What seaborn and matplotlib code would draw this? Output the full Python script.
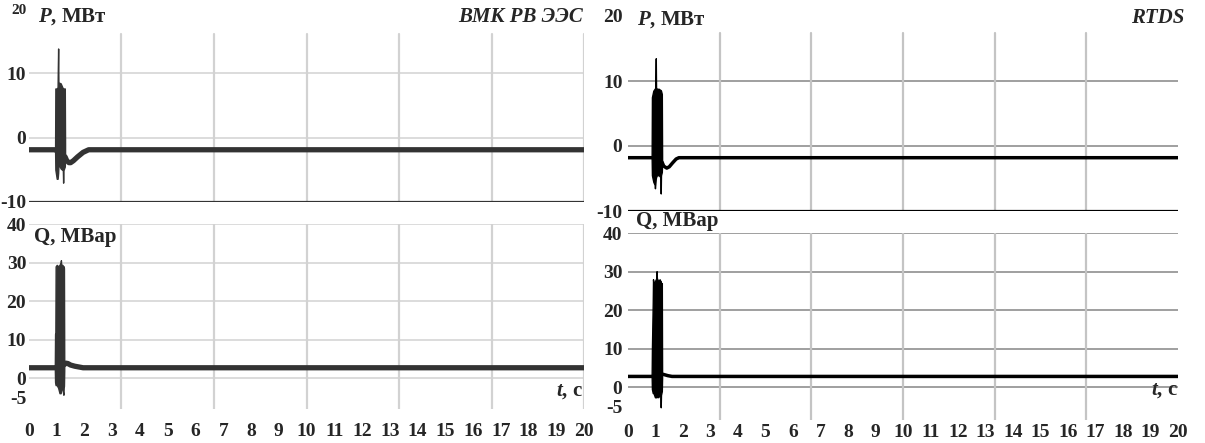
import numpy as np
import pandas as pd
import matplotlib.pyplot as plt
import seaborn as sns

sns.set_style("white")
plt.rcParams['font.family'] = ['Liberation Serif', 'DejaVu Serif']
plt.rcParams['font.weight'] = 'bold'
plt.rcParams['mathtext.fontset'] = 'custom'
plt.rcParams['mathtext.it'] = 'Liberation Serif:italic:bold'
plt.rcParams['mathtext.rm'] = 'Liberation Serif:bold'

# --- ВМК РВ ЭЭС ---
p1_t = [0, 0.94, 1.30, 1.36, 1.44, 1.50, 1.60, 1.75, 1.95, 2.15, 20]
p1_v = [-1.9, -1.9, -3.0, -3.6, -3.9, -3.9, -3.6, -3.0, -2.3, -1.9, -1.9]
p1_bt = [0.94, 0.95, 1.00, 1.03, 1.04, 1.05, 1.06, 1.08, 1.14, 1.22, 1.23, 1.24, 1.29, 1.30]
p1_hi = [-1.9, 7.6, 7.6, 7.8, 11.0, 13.8, 8.6, 8.5, 8.4, 7.6, 7.6, 7.6, 7.6, -1.0]
p1_lo = [-1.9, -5.0, -6.4, -6.4, -6.0, -5.5, -4.5, -4.2, -4.8, -5.1, -7.0, -5.1, -4.5, -3.0]

q1_t = [0, 0.93, 1.27, 1.32, 1.40, 1.50, 1.65, 1.80, 1.95, 20]
q1_v = [2.7, 2.7, 3.5, 3.9, 3.8, 3.4, 3.1, 2.9, 2.7, 2.7]
q1_bt = [0.93, 0.94, 0.95, 0.96, 1.00, 1.05, 1.10, 1.14, 1.15, 1.16, 1.20, 1.24, 1.25, 1.26, 1.27]
q1_hi = [2.7, 11.5, 11.5, 29.0, 29.4, 29.0, 29.4, 30.0, 30.6, 29.5, 29.4, 29.0, 29.0, 28.5, 4.0]
q1_lo = [2.7, -1.0, -1.5, -1.8, -1.8, -2.5, -3.9, -3.9, -3.5, -3.0, -2.5, -4.3, -2.5, -2.0, 2.0]

# --- RTDS ---
p2_t = [0, 0.87, 1.24, 1.30, 1.41, 1.50, 1.62, 1.75, 1.85, 20]
p2_v = [-1.8, -1.8, -2.5, -3.1, -3.4, -3.2, -2.6, -2.0, -1.8, -1.8]
p2_bt = [0.86, 0.87, 0.92, 0.97, 0.98, 0.99, 1.00, 1.01, 1.02, 1.05, 1.12, 1.18, 1.19, 1.20, 1.23, 1.24]
p2_hi = [-1.8, 7.5, 8.5, 8.8, 8.8, 9.0, 11.0, 13.5, 9.0, 8.8, 8.8, 8.6, 8.6, 8.5, 8.0, -1.5]
p2_lo = [-1.8, -4.5, -5.5, -6.0, -6.5, -6.0, -5.5, -5.0, -4.8, -4.5, -4.5, -4.8, -7.3, -4.5, -4.0, -2.5]

q2_t = [0, 0.86, 1.24, 1.30, 1.45, 1.60, 20]
q2_v = [2.8, 2.8, 3.4, 3.3, 3.0, 2.8, 2.8]
q2_bt = [0.86, 0.87, 0.90, 0.91, 0.93, 0.98, 1.03, 1.04, 1.05, 1.10, 1.15, 1.18, 1.19, 1.20, 1.23, 1.24]
q2_hi = [2.8, 10.0, 22.0, 28.0, 26.5, 27.5, 28.3, 30.1, 28.3, 27.5, 28.0, 27.5, 27.5, 27.0, 27.0, 3.0]
q2_lo = [2.8, -0.5, -1.5, -1.5, -1.6, -2.6, -2.6, -2.6, -2.3, -2.6, -2.0, -2.0, -5.2, -2.0, -1.0, 2.5]

x_ticks = list(range(21))
x_grid = [3.33, 6.67, 10, 13.33, 16.67, 20]

W, H = 1205, 443
fig = plt.figure(figsize=(W / 100, H / 100), dpi=100)


def px_axes(x0, x1, y0, y1):
    # pixel box -> figure fraction
    return fig.add_axes([x0 / W, 1 - y1 / H, (x1 - x0) / W, (y1 - y0) / H])


def draw(ax, t, v, bt, hi, lo, color, lw):
    ax.fill_between(bt, lo, hi, color=color, lw=1.0, zorder=3)
    sns.lineplot(x=t, y=v, ax=ax, color=color, lw=lw, zorder=4)


def style(ax, ylim, yticks, hgrid, hcol, vcol, vtop, bottom, xlabels, xpad, ypad, last_v=True):
    ax.set_xlim(0, 20)
    ax.set_ylim(*ylim)
    for s in ax.spines.values():
        s.set_visible(False)
    for y in hgrid:
        ax.axhline(y, color=hcol, lw=1.1, zorder=1)
    frac = (vtop - ylim[0]) / (ylim[1] - ylim[0])
    for x in x_grid:
        if x < 20 or last_v:
            ax.axvline(x, ymin=0, ymax=frac, color=vcol, lw=1.6, zorder=1)
    if bottom is not None:
        ax.axhline(ylim[0], color=bottom, lw=1.6, zorder=2)
    ax.set_yticks(yticks)
    ax.set_yticklabels([str(y) for y in yticks], fontweight='bold')
    if xlabels:
        ax.set_xticks(x_ticks)
        ax.set_xticklabels([str(x) for x in x_ticks], fontweight='bold')
    else:
        ax.set_xticks([])
    ax.tick_params(axis='both', length=0, labelsize=14)
    ax.tick_params(axis='x', pad=xpad)
    ax.tick_params(axis='y', pad=ypad)
    ax.set_xlabel('')
    ax.set_ylabel('')


# left: ВМК РВ ЭЭС
axp1 = px_axes(29, 584, 8.5, 202)
draw(axp1, p1_t, p1_v, p1_bt, p1_hi, p1_lo, '#333333', 3.8)
style(axp1, (-10, 20), [-10, 0, 10, 20], [0, 10], '#d2d2d2', '#d2d2d2', 16.1,
      '#333333', False, 0, 2)
axp1.get_yticklabels()[-1].set_fontsize(11)

axq1 = px_axes(29, 584, 224, 409)
draw(axq1, q1_t, q1_v, q1_bt, q1_hi, q1_lo, '#333333', 3.8)
style(axq1, (-8, 40), [-5, 0, 10, 20, 30, 40], [0, 10, 20, 30, 40], '#d2d2d2',
      '#d2d2d2', 40, None, True, 10, 2)

# right: RTDS
axp2 = px_axes(628, 1178, 16, 211)
draw(axp2, p2_t, p2_v, p2_bt, p2_hi, p2_lo, 'black', 2.5)
style(axp2, (-10, 20), [-10, 0, 10, 20], [0, 10], '#858585', '#c4c4c4', 17.4,
      'black', False, 0, 4, last_v=False)

axq2 = px_axes(628, 1178, 233, 420)
draw(axq2, q2_t, q2_v, q2_bt, q2_hi, q2_lo, 'black', 2.5)
style(axq2, (-8.5, 40), [-5, 0, 10, 20, 30, 40], [0, 10, 20, 30, 40], '#858585',
      '#c4c4c4', 40, None, True, 3, 4, last_v=False)


def ftext(x, y, s, **kw):
    fig.text(x / W, 1 - y / H, s, va='center', fontweight='bold', **kw)


ftext(38, 17, '$P$, МВт', fontsize=15)
ftext(637, 20, '$P$, МВт', fontsize=15)
ftext(583, 17, 'ВМК РВ ЭЭС', fontsize=15, style='italic', ha='right')
ftext(1184, 18, 'RTDS', fontsize=15, style='italic', ha='right')
ftext(34, 237, 'Q, МВар', fontsize=15)
ftext(636, 221, 'Q, МВар', fontsize=15)
ftext(583, 391, '$t$, c', fontsize=15, ha='right')
ftext(1178, 390, '$t$, c', fontsize=15, ha='right')

fig.savefig('out.png', dpi=100)
